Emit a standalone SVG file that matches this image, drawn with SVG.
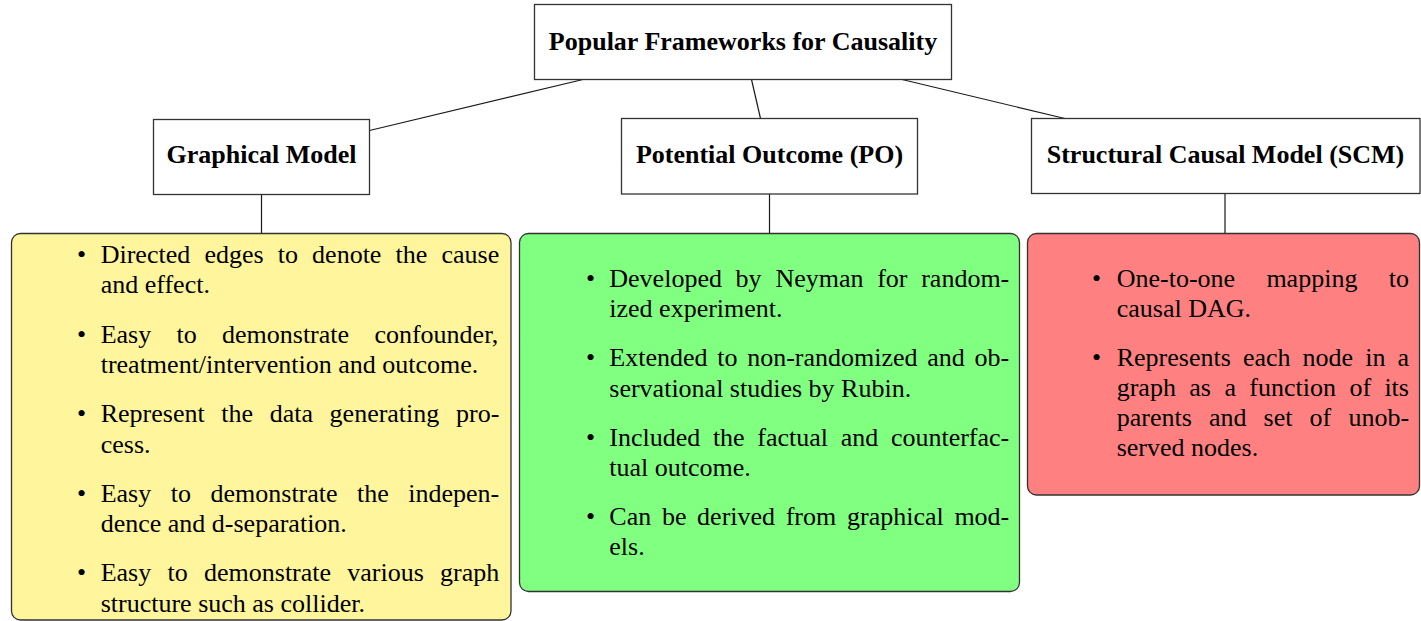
<svg xmlns="http://www.w3.org/2000/svg" width="1421" height="621" viewBox="0 0 1421 621">
  <style>
    .node { fill: #ffffff; stroke: #333333; stroke-width: 1.3; }
    .card { stroke: #333333; stroke-width: 1.3; }
    .yellow { fill: #fff59c; }
    .green { fill: #80ff80; }
    .red { fill: #ff8080; }
    .head { font-family: "Liberation Serif", "Times New Roman", serif; font-size: 26px; font-weight: bold; fill: #000; text-anchor: middle; }
    .body { font-family: "Liberation Serif", "Times New Roman", serif; font-size: 26px; fill: #000; }
    .dot { font-family: "Liberation Serif", "Times New Roman", serif; font-size: 26px; fill: #000; text-anchor: middle; }
    .link { stroke: #1a1a1a; stroke-width: 1.2; fill: none; }
  </style>

  <!-- connectors -->
  <g id="connectors">
    <line class="link" x1="583" y1="79.5" x2="369.5" y2="130.5"/>
    <line class="link" x1="751.5" y1="79.5" x2="760.5" y2="118.5"/>
    <line class="link" x1="902" y1="79.5" x2="1065" y2="118.5"/>
    <line class="link" x1="261.5" y1="194.5" x2="261.5" y2="233.5"/>
    <line class="link" x1="769.5" y1="194" x2="769.5" y2="233.5"/>
    <line class="link" x1="1225" y1="193.5" x2="1225" y2="233.5"/>
  </g>

  <!-- root -->
  <g id="root">
    <rect class="node" x="534.5" y="4.5" width="417" height="75"/>
    <text class="head" x="743" y="49.5">Popular Frameworks for Causality</text>
  </g>

  <!-- framework headings -->
  <g id="graphical-model">
    <rect class="node" x="153.5" y="119.5" width="216" height="75"/>
    <text class="head" x="261.5" y="163">Graphical Model</text>
  </g>
  <g id="potential-outcome">
    <rect class="node" x="621.5" y="118.5" width="296" height="75.5"/>
    <text class="head" x="769.5" y="163">Potential Outcome (PO)</text>
  </g>
  <g id="scm">
    <rect class="node" x="1031.5" y="118.5" width="388.5" height="75"/>
    <text class="head" x="1225.5" y="163">Structural Causal Model (SCM)</text>
  </g>

  <!-- graphical model notes -->
  <g id="graphical-model-notes">
    <rect class="card yellow" x="11.5" y="233.5" width="499.5" height="386.5" rx="9" ry="9"/>
    <text class="dot" x="81.5" y="262.5">•</text>
    <text class="body" y="262.5"><tspan x="100.7">Directed</tspan><tspan x="204.4">edges</tspan><tspan x="277.7">to</tspan><tspan x="312.1">denote</tspan><tspan x="395.6">the</tspan><tspan x="441.5">cause</tspan></text>
    <text class="body" x="100.7" y="293">and effect.</text>
    <text class="dot" x="81.5" y="342.5">•</text>
    <text class="body" y="342.5"><tspan x="100.7">Easy</tspan><tspan x="176.5">to</tspan><tspan x="222">demonstrate</tspan><tspan x="374.4">confounder,</tspan></text>
    <text class="body" x="100.7" y="373">treatment/intervention and outcome.</text>
    <text class="dot" x="81.5" y="422">•</text>
    <text class="body" y="422"><tspan x="100.7">Represent</tspan><tspan x="221.3">the</tspan><tspan x="269.7">data</tspan><tspan x="329.6">generating</tspan><tspan x="456">pro-</tspan></text>
    <text class="body" x="100.7" y="452.5">cess.</text>
    <text class="dot" x="81.5" y="501.5">•</text>
    <text class="body" y="501.5"><tspan x="100.7">Easy</tspan><tspan x="170.7">to</tspan><tspan x="210.5">demonstrate</tspan><tspan x="357.1">the</tspan><tspan x="408.3">indepen-</tspan></text>
    <text class="body" x="100.7" y="532">dence and d-separation.</text>
    <text class="dot" x="81.5" y="581">•</text>
    <text class="body" y="581"><tspan x="100.7">Easy</tspan><tspan x="167.5">to</tspan><tspan x="204">demonstrate</tspan><tspan x="347.3">various</tspan><tspan x="440.1">graph</tspan></text>
    <text class="body" x="100.7" y="611.5">structure such as collider.</text>
  </g>

  <!-- potential outcome notes -->
  <g id="potential-outcome-notes">
    <rect class="card green" x="519.5" y="233.5" width="500" height="358" rx="9" ry="9"/>
    <text class="dot" x="590.5" y="286.5">•</text>
    <text class="body" y="286.5"><tspan x="609.3">Developed</tspan><tspan x="735.6">by</tspan><tspan x="775.4">Neyman</tspan><tspan x="877.2">for</tspan><tspan x="921.2">random-</tspan></text>
    <text class="body" x="609.3" y="316.5">ized experiment.</text>
    <text class="dot" x="590.5" y="366">•</text>
    <text class="body" y="366"><tspan x="609.3">Extended</tspan><tspan x="717.2">to</tspan><tspan x="747.2">non-randomized</tspan><tspan x="927.3">and</tspan><tspan x="974.6">ob-</tspan></text>
    <text class="body" x="609.3" y="396.5">servational studies by Rubin.</text>
    <text class="dot" x="590.5" y="445.5">•</text>
    <text class="body" y="445.5"><tspan x="609.3">Included</tspan><tspan x="712.9">the</tspan><tspan x="757.3">factual</tspan><tspan x="840.7">and</tspan><tspan x="890.9">counterfac-</tspan></text>
    <text class="body" x="609.3" y="476">tual outcome.</text>
    <text class="dot" x="590.5" y="525">•</text>
    <text class="body" y="525"><tspan x="609.3">Can</tspan><tspan x="661.9">be</tspan><tspan x="697.1">derived</tspan><tspan x="785.7">from</tspan><tspan x="847">graphical</tspan><tspan x="954.4">mod-</tspan></text>
    <text class="body" x="609.3" y="555">els.</text>
  </g>

  <!-- structural causal model notes -->
  <g id="scm-notes">
    <rect class="card red" x="1027.5" y="233.5" width="392" height="261.5" rx="9" ry="9"/>
    <text class="dot" x="1096.5" y="286.5">•</text>
    <text class="body" y="286.5"><tspan x="1116.7">One-to-one</tspan><tspan x="1266.4">mapping</tspan><tspan x="1388.8">to</tspan></text>
    <text class="body" x="1116.7" y="316.5">causal DAG.</text>
    <text class="dot" x="1096.5" y="365.5">•</text>
    <text class="body" y="365.5"><tspan x="1116.7">Represents</tspan><tspan x="1242.9">each</tspan><tspan x="1302.6">node</tspan><tspan x="1365.2">in</tspan><tspan x="1397.5">a</tspan></text>
    <text class="body" y="395.5"><tspan x="1116.7">graph</tspan><tspan x="1189.3">as</tspan><tspan x="1224.4">a</tspan><tspan x="1249.3">function</tspan><tspan x="1349.4">of</tspan><tspan x="1384.4">its</tspan></text>
    <text class="body" y="425.5"><tspan x="1116.7">parents</tspan><tspan x="1208.9">and</tspan><tspan x="1263.6">set</tspan><tspan x="1309.6">of</tspan><tspan x="1348.4">unob-</tspan></text>
    <text class="body" x="1116.7" y="455.5">served nodes.</text>
  </g>
</svg>
